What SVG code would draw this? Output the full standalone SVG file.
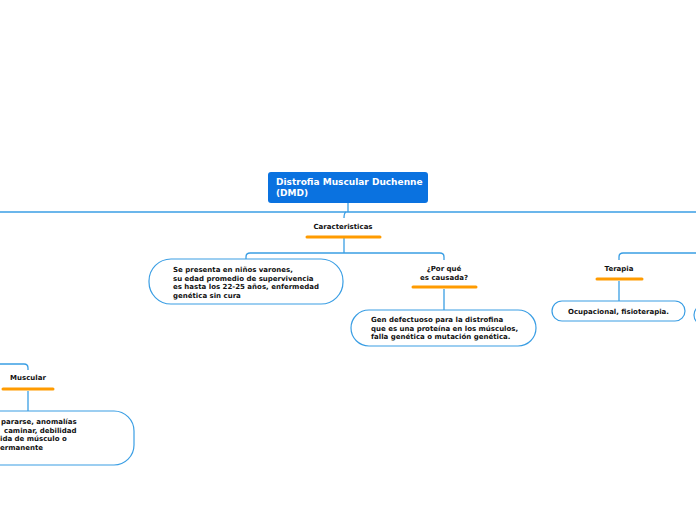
<svg xmlns="http://www.w3.org/2000/svg" width="696" height="520" viewBox="0 0 696 520">
<style>
.ln{fill:none;stroke:#3a9ee4;stroke-width:1.3}
.bx{fill:#fff;stroke:#3a9ee4;stroke-width:1.2}
.ul{stroke:#ff9b00;stroke-width:3;stroke-linecap:round}
.t{font-family:"DejaVu Sans",Verdana,sans-serif;font-weight:bold;font-size:7px;fill:#111}
.tt{font-family:"DejaVu Sans",Verdana,sans-serif;font-weight:bold;font-size:9px;fill:#fff}
</style>
<rect width="696" height="520" fill="#fff"/>
<g id="connectors">
<path class="ln" d="M348,203 V212"/>
<path class="ln" d="M0,212 H696"/>
<path class="ln" d="M346,212 Q344,213 344,218"/>
<path class="ln" d="M344,238 V253"/>
<path class="ln" d="M246,260 V257 Q246,253 250,253 H440 Q444,253 444,257 V260"/>
<path class="ln" d="M444,289 V310"/>
<path class="ln" d="M619,260 V257 Q619,253 623,253 H696"/>
<path class="ln" d="M619,281 V301"/>
<path class="ln" d="M0,364 H24 Q28,364 28,368 V370"/>
<path class="ln" d="M28,391 V411"/>
</g>
<g id="root">
<rect x="268" y="172" width="160" height="31" rx="3" fill="#0a72e0"/>
<text class="tt" x="276" y="185">Distrofia Muscular Duchenne</text>
<text class="tt" x="276" y="196">(DMD)</text>
</g>
<g id="caracteristicas">
<text class="t" x="343" y="229" text-anchor="middle">Caracteristicas</text>
<line class="ul" x1="307" y1="237" x2="380" y2="237"/>
</g>
<g id="presenta">
<rect class="bx" x="149" y="259" width="194" height="45" rx="22"/>
<text class="t" x="173" y="272">Se presenta en niños varones,</text>
<text class="t" x="173" y="280.7">su edad promedio de supervivencia</text>
<text class="t" x="173" y="289.4">es hasta los 22-25 años, enfermedad</text>
<text class="t" x="173" y="298">genética sin cura</text>
</g>
<g id="porque">
<text class="t" x="444" y="271" text-anchor="middle">¿Por qué</text>
<text class="t" x="444" y="279.5" text-anchor="middle">es causada?</text>
<line class="ul" x1="413" y1="287" x2="476" y2="287"/>
</g>
<g id="gen">
<rect class="bx" x="351" y="310" width="185" height="36" rx="18"/>
<text class="t" x="371" y="322">Gen defectuoso para la distrofina</text>
<text class="t" x="371" y="330.7">que es una proteína en los músculos,</text>
<text class="t" x="371" y="339.4">falla genética o mutación genética.</text>
</g>
<g id="terapia">
<text class="t" x="619" y="271" text-anchor="middle">Terapia</text>
<line class="ul" x1="597" y1="279" x2="642" y2="279"/>
</g>
<g id="ocupacional">
<rect class="bx" x="552" y="301" width="133" height="20" rx="10"/>
<text class="t" x="618.5" y="313.5" text-anchor="middle">Ocupacional, fisioterapia.</text>
</g>
<g id="other">
<rect class="bx" x="694" y="305" width="40" height="20" rx="10"/>
</g>
<g id="muscular">
<text class="t" x="28" y="380" text-anchor="middle">Muscular</text>
<line class="ul" x1="3" y1="389" x2="53" y2="389"/>
</g>
<g id="sintomas">
<rect class="bx" x="-40" y="411" width="174" height="54" rx="20"/>
<text class="t" x="1" y="424">pararse, anomalías</text>
<text class="t" x="4" y="432.7">caminar, debilidad</text>
<text class="t" x="0" y="441.4">ida de músculo o</text>
<text class="t" x="0" y="450">ermanente</text>
</g>
</svg>
